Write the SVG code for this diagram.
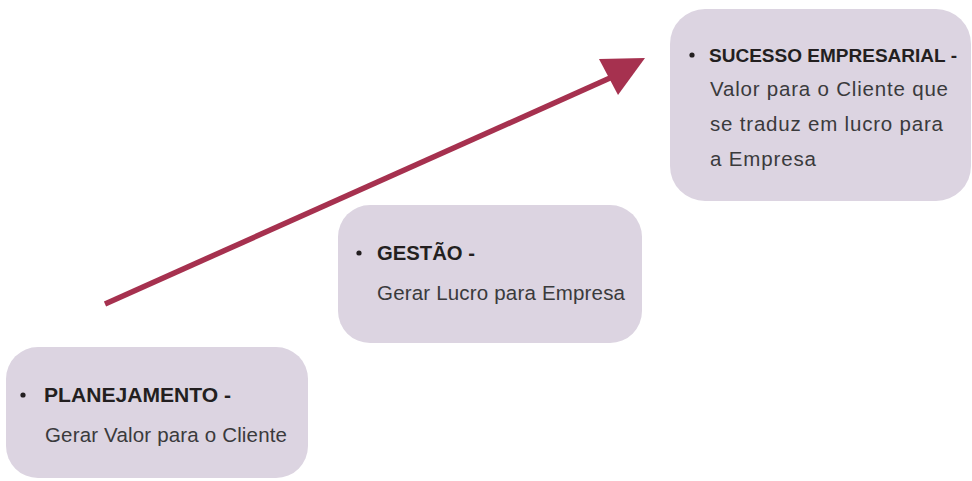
<svg xmlns="http://www.w3.org/2000/svg" width="972" height="481" viewBox="0 0 972 481">
<style>
.box{fill:#DCD4E1;}
.b{font-family:"Liberation Sans",Arial,sans-serif;font-weight:bold;font-size:20.5px;fill:#231F20;}
.r{font-family:"Liberation Sans",Arial,sans-serif;font-size:20.5px;fill:#3A3A3C;}
.dot{fill:#231F20;}
.arrow{stroke:#A6314F;stroke-width:5.5;fill:none;}
.head{fill:#A6314F;}
</style>
<rect width="972" height="481" fill="#FFFFFF"/>
<g id="node-planejamento">
<rect class="box" x="6" y="347" width="302" height="131" rx="32"/>
<circle class="dot" cx="23" cy="395" r="2.6"/>
<text class="b" x="44" y="402" textLength="187" lengthAdjust="spacingAndGlyphs">PLANEJAMENTO -</text>
<text class="r" x="45" y="442" textLength="242">Gerar Valor para o Cliente</text>
</g>
<g id="node-gestao">
<rect class="box" x="338" y="205" width="304" height="138" rx="32"/>
<circle class="dot" cx="359" cy="253" r="2.6"/>
<text class="b" x="377" y="260" textLength="98" lengthAdjust="spacingAndGlyphs">GESTÃO -</text>
<text class="r" x="377" y="300" textLength="248">Gerar Lucro para Empresa</text>
</g>
<g id="node-sucesso">
<rect class="box" x="670" y="9" width="301" height="192" rx="35"/>
<circle class="dot" cx="692" cy="55" r="2.6"/>
<text class="b" x="709" y="62" style="font-size:19px" textLength="248" lengthAdjust="spacingAndGlyphs">SUCESSO EMPRESARIAL -</text>
<text class="r" x="710" y="96" textLength="238">Valor para o Cliente que</text>
<text class="r" x="710" y="131" textLength="233">se traduz em lucro para</text>
<text class="r" x="710" y="166" textLength="106">a Empresa</text>
</g>
<g id="connectors">
<line class="arrow" x1="105" y1="304" x2="610" y2="78"/>
<polygon class="head" points="599,59 645,58 618,95"/>
</g>
</svg>
